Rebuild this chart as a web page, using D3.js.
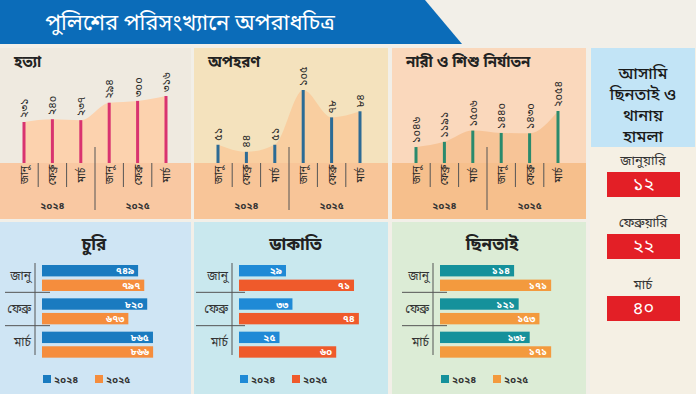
<html>
<head>
<meta charset="utf-8">
<script src="https://cdn.jsdelivr.net/npm/d3@7"></script>
<style>
  body { margin:0; background:#f2efe8; }
  text { font-family:'Noto Sans Bengali','Noto Sans',sans-serif; }
</style>
</head>
<body>
<svg width="696" height="394"></svg>
<script>
// chart data
var title = "পুলিশের পরিসংখ্যানে অপরাধচিত্র";
var months = ["জানু", "ফেব্রু", "মার্চ"];
var years = ["২০২৪", "২০২৫"];
var murder = [231, 240, 237, 294, 300, 316];
var kidnap = [51, 44, 51, 105, 78, 84];
var womenChild = [1046, 1191, 1506, 1440, 1430, 2054];
var theft2024 = [749, 820, 865], theft2025 = [797, 673, 866];
var robbery2024 = [29, 33, 25], robbery2025 = [71, 74, 60];
var snatch2024 = [114, 121, 138], snatch2025 = [171, 153, 171];
var attackTitle = ["আসামি", "ছিনতাই ও", "থানায়", "হামলা"];
var attackMonths = ["জানুয়ারি", "ফেব্রুয়ারি", "মার্চ"];
var attacks = [12, 22, 40];

var bn = function(v) { return String(v).replace(/\d/g, function(d) { return "০১২৩৪৫৬৭৮৯"[d]; }); };

var svg = d3.select("svg");

// background
svg.append("rect").attr("width", 696).attr("height", 394).attr("fill", "#f2efe8");

// title banner
svg.append("path").attr("d", "M0,0 L425,0 L462,44 L0,44 Z").attr("fill", "#0b6cb9");
svg.append("text").attr("x", 190).attr("y", 30).attr("text-anchor", "middle")
  .attr("fill", "#fff").style("font-size", "22px").text(title);

/* ---------- top row: lollipop style bars ---------- */
var topPanels = [
  {name: "হত্যা", data: murder, ox: 0, w: 191, bg: "#efeae0", area: "#fcd2ae", band: "#f9c8a2", bar: "#d9336f", lo: 97, h: 67},
  {name: "অপহরণ", data: kidnap, ox: 194, w: 194, bg: "#f4e2bd", area: "#f9cea0", band: "#f8c598", bar: "#2c6b95", lo: 33, h: 73},
  {name: "নারী ও শিশু নির্যাতন", data: womenChild, ox: 392, w: 194, bg: "#fad8bc", area: "#f7c497", band: "#f6bf8c", bar: "#2a8a6c", lo: 600, h: 52}
];
var topY = 48, baseY = 163, bandBottom = 219;
var slots = d3.range(6);

topPanels.forEach(function(p) {
  var g = svg.append("g");
  g.append("rect").attr("x", p.ox).attr("y", topY).attr("width", p.w).attr("height", baseY - topY).attr("fill", p.bg);
  g.append("rect").attr("x", p.ox).attr("y", baseY).attr("width", p.w).attr("height", bandBottom - baseY).attr("fill", p.band);

  var x = d3.scalePoint().domain(slots).range([p.ox + 24, p.ox + 166]);
  var y = d3.scaleLinear().domain([p.lo, d3.max(p.data)]).range([baseY, baseY - p.h]);
  var step = x.step();

  var area = d3.area().x(function(d, i) { return x(i); }).y0(baseY).y1(function(d) { return y(d); }).curve(d3.curveMonotoneX);
  g.append("path").datum(p.data).attr("d", area).attr("fill", p.area);

  g.selectAll(".bar").data(p.data).enter().append("rect")
    .attr("x", function(d, i) { return x(i) - 1.5; })
    .attr("y", function(d) { return y(d); })
    .attr("width", 3)
    .attr("height", function(d) { return baseY - y(d); })
    .attr("fill", p.bar);

  g.selectAll(".val").data(p.data).enter().append("text")
    .attr("transform", function(d, i) { return "translate(" + (x(i) + 4) + "," + (y(d) - 4) + ") rotate(-90)"; })
    .attr("fill", "#2a2a2a").style("font-size", "11px").text(function(d) { return bn(d); });

  // month labels
  g.selectAll(".mon").data(slots).enter().append("text")
    .attr("transform", function(i) { return "translate(" + (x(i) + 4) + "," + (baseY + 12) + ") rotate(-90)"; })
    .attr("text-anchor", "middle").attr("fill", "#2a2a2a").style("font-size", "10.5px")
    .text(function(i) { return months[i % 3]; });

  // separators
  [0, 1, 3, 4].forEach(function(i) {
    g.append("line").attr("x1", x(i) + step / 2).attr("x2", x(i) + step / 2)
      .attr("y1", baseY).attr("y2", baseY + 24).attr("stroke", "#555");
  });
  g.append("line").attr("x1", x(2) + step / 2).attr("x2", x(2) + step / 2)
    .attr("y1", baseY - 16).attr("y2", bandBottom - 9).attr("stroke", "#555");

  years.forEach(function(yr, k) {
    g.append("text").attr("x", x(1 + 3 * k)).attr("y", 209).attr("text-anchor", "middle")
      .attr("fill", "#333").style("font-size", "10px").style("font-weight", "bold").text(yr);
  });

  g.append("text").attr("x", p.ox + 14).attr("y", 67).attr("fill", "#222")
    .style("font-size", "15px").style("font-weight", "bold").text(p.name);
});

/* ---------- bottom row: grouped horizontal bars ---------- */
var botPanels = [
  {name: "চুরি", a: theft2024, b: theft2025, ox: 0, w: 191, bg: "#cfe5f4", c1: "#1a7bc0", c2: "#f58d3d", axis: 35, sep: [5, 50], scale: 0.1283},
  {name: "ডাকাতি", a: robbery2024, b: robbery2025, ox: 194, w: 194, bg: "#c9e8ee", c1: "#1f8ad6", c2: "#ef5a2b", axis: 38, sep: [2, 51], scale: 1.62},
  {name: "ছিনতাই", a: snatch2024, b: snatch2025, ox: 392, w: 194, bg: "#dcecd6", c1: "#15919b", c2: "#f39a3e", axis: 41, sep: [10, 55], scale: 0.65}
];
var botTop = 222;

botPanels.forEach(function(p) {
  var g = svg.append("g");
  g.append("rect").attr("x", p.ox).attr("y", botTop).attr("width", p.w).attr("height", 394 - botTop).attr("fill", p.bg);

  var ax = p.ox + p.axis;
  var maxV = d3.max(p.a.concat(p.b));
  var x = d3.scaleLinear().domain([0, maxV]).range([ax + 7, ax + 7 + maxV * p.scale]);
  var y0 = d3.scaleBand().domain(months).range([259, 359]);
  var y1 = d3.scaleBand().domain(years).range([6, 32]).paddingInner(0.22);

  g.append("text").attr("x", (ax + x(maxV)) / 2).attr("y", 250).attr("text-anchor", "middle")
    .attr("fill", "#222").style("font-size", "17px").style("font-weight", "bold").text(p.name);

  months.forEach(function(m, i) {
    [p.a[i], p.b[i]].forEach(function(v, k) {
      var yy = y0(m) + y1(years[k]);
      g.append("rect").attr("x", x(0)).attr("y", yy).attr("width", x(v) - x(0))
        .attr("height", y1.bandwidth()).attr("fill", k ? p.c2 : p.c1);
      g.append("text").attr("x", x(v) - 4).attr("y", yy + y1.bandwidth() / 2 + 3.5)
        .attr("text-anchor", "end").attr("fill", "#fff").style("font-size", "10px").style("font-weight", "bold").text(bn(v));
    });
    g.append("text").attr("x", ax - 4).attr("y", y0(m) + y0.bandwidth() / 2 + 4)
      .attr("text-anchor", "end").attr("fill", "#333").style("font-size", "12px").text(m);
    if (i > 0) {
      g.append("line").attr("x1", p.ox + p.sep[0]).attr("x2", p.ox + p.sep[1])
        .attr("y1", y0(m)).attr("y2", y0(m)).attr("stroke", "#555");
    }
  });
  g.append("line").attr("x1", ax).attr("x2", ax).attr("y1", 263).attr("y2", 355).attr("stroke", "#555");

  // legend
  years.forEach(function(yr, k) {
    var lx = ax + 8 + k * 52;
    g.append("rect").attr("x", lx).attr("y", 375).attr("width", 8).attr("height", 8).attr("fill", k ? p.c2 : p.c1);
    g.append("text").attr("x", lx + 11).attr("y", 383).attr("fill", "#333").style("font-size", "10px").style("font-weight", "bold").text(yr);
  });
});

/* ---------- right panel ---------- */
var rp = svg.append("g");
rp.append("rect").attr("x", 590).attr("y", 48).attr("width", 106).attr("height", 346).attr("fill", "#f5f0e4");
rp.append("rect").attr("x", 591).attr("y", 48).attr("width", 104).attr("height", 99).attr("fill", "#c2e4f6");
rp.selectAll(".hd").data(attackTitle).enter().append("text")
  .attr("x", 643).attr("y", function(d, i) { return 79 + i * 21; })
  .attr("text-anchor", "middle").attr("fill", "#1a1a1a").style("font-size", "16.5px").style("font-weight", "500").text(function(d) { return d; });

var ry = d3.scalePoint().domain(attackMonths).range([160, 284]);
attackMonths.forEach(function(m, i) {
  rp.append("text").attr("x", 643).attr("y", ry(m) + 5).attr("text-anchor", "middle")
    .attr("fill", "#333").style("font-size", "13px").text(m);
  rp.append("rect").attr("x", 607).attr("y", ry(m) + 12).attr("width", 73).attr("height", 25).attr("fill", "#e31f26");
  rp.append("text").attr("x", 643.5).attr("y", ry(m) + 30).attr("text-anchor", "middle")
    .attr("fill", "#fff").style("font-size", "18px").text(bn(attacks[i]));
});
</script>
</body>
</html>
